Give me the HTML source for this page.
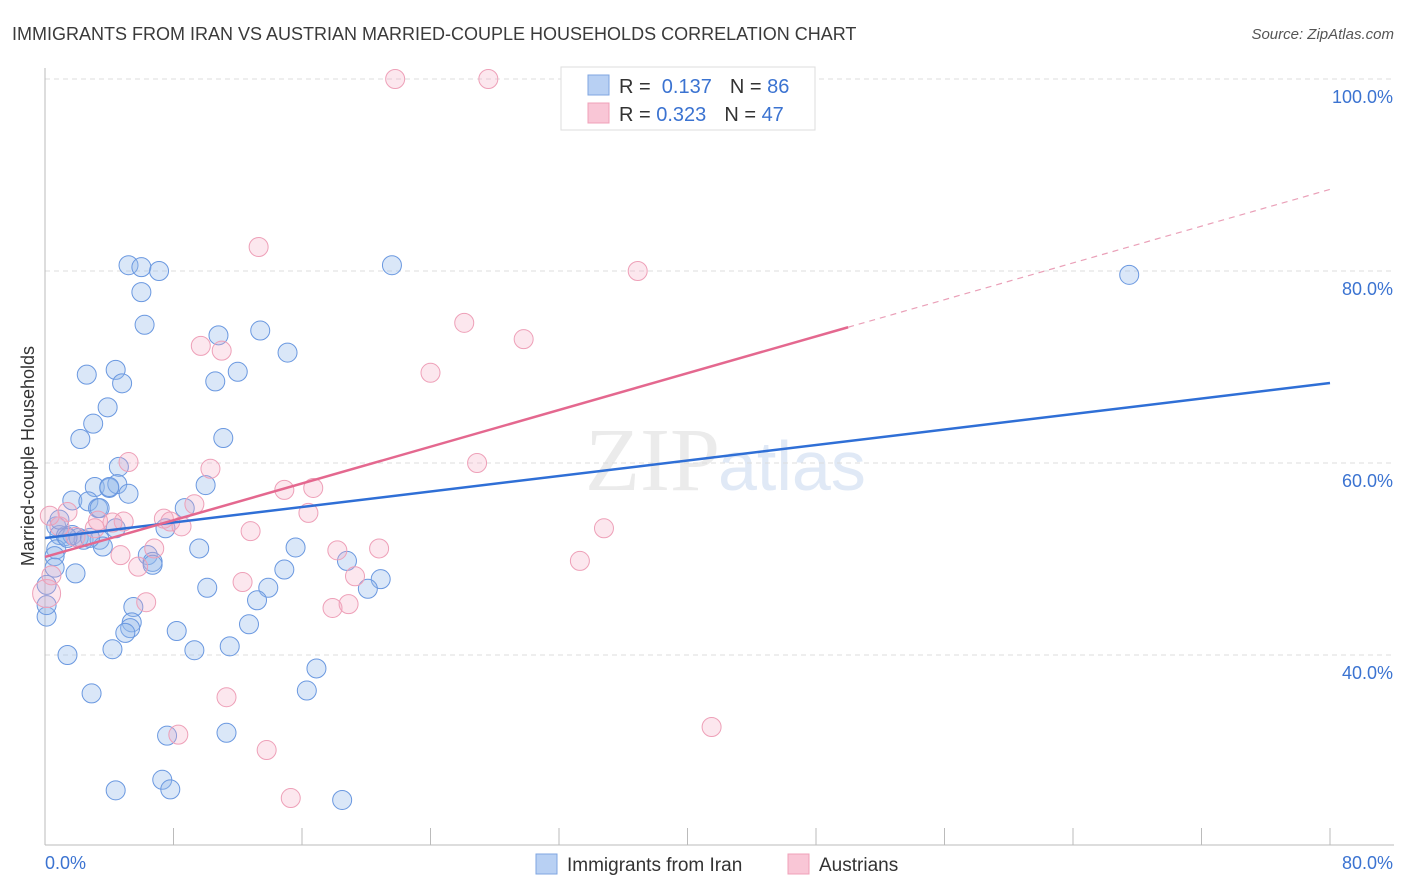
<!DOCTYPE html>
<html><head><meta charset="utf-8"><style>
body{margin:0;background:#fff;font-family:"Liberation Sans",sans-serif;}
svg{display:block}
</style></head><body>
<svg id="chart" width="1406" height="892">
<text x="12" y="40" font-size="18" fill="#3a3a3a">IMMIGRANTS FROM IRAN VS AUSTRIAN MARRIED-COUPLE HOUSEHOLDS CORRELATION CHART</text>
<text x="1394" y="39" font-size="15" fill="#555" font-style="italic" text-anchor="end">Source: ZipAtlas.com</text>
<text x="720" y="490" font-size="90" fill="#ebebeb" font-family="Liberation Serif,serif" text-anchor="end">ZIP</text>
<text x="718" y="490" font-size="70" fill="#e0e9f6">atlas</text>
<g id="grid"></g><g id="axes"></g><g id="pts"></g><g id="lines"></g>
<text transform="translate(34,456) rotate(-90)" font-size="18" fill="#333" text-anchor="middle">Married-couple Households</text>
<text x="45" y="869" font-size="18" fill="#3b73d1">0.0%</text>
<text x="1393" y="869" font-size="18" fill="#3b73d1" text-anchor="end">80.0%</text>
<g>
<rect x="561" y="67" width="254" height="63" fill="#fff" stroke="#ddd"/>
<rect x="588" y="75" width="21" height="20" fill="#b8d0f3" stroke="#7fa6e0"/>
<rect x="588" y="103" width="21" height="20" fill="#f9c6d6" stroke="#f0a0b8"/>
<text x="619" y="93" font-size="20" fill="#333">R = <tspan fill="#3b73d1">&#160;0.137</tspan><tspan dx="18">N = </tspan><tspan fill="#3b73d1">86</tspan></text>
<text x="619" y="121" font-size="20" fill="#333">R = <tspan fill="#3b73d1">0.323</tspan><tspan dx="18">N = </tspan><tspan fill="#3b73d1">47</tspan></text>
</g>
<g>
<rect x="536" y="854" width="21" height="20" fill="#b8d0f3" stroke="#7fa6e0"/>
<text x="567" y="871" font-size="19" fill="#333">Immigrants from Iran</text>
<rect x="788" y="854" width="21" height="20" fill="#f9c6d6" stroke="#f0a0b8"/>
<text x="819" y="871" font-size="19" fill="#333">Austrians</text>
</g>
</svg>
<script>
const yTicks=[40,60,80,100];
const xTicks=[0,8,16,24,32,40,48,56,64,72,80];
const blueX=[5.2,6.0,7.1,6.0,6.2,10.8,13.4,15.1,2.6,4.4,4.8,10.6,12.0,3.9,3.0,2.2,11.1,4.6,3.1,4.0,4.5,5.2,1.7,2.7,3.3,10.0,8.7,0.7,0.9,1.3,1.7,2.1,2.4,3.4,3.6,0.7,0.6,0.6,6.4,6.7,6.7,9.6,15.6,18.8,14.9,1.9,10.1,13.9,20.9,20.1,13.2,5.5,5.4,5.3,5.0,8.2,12.7,11.5,9.3,4.2,1.4,16.9,16.3,2.9,7.6,11.3,7.3,7.8,4.4,18.5,21.6,67.5,0.1,0.1,0.1,0.9,1.4,2.8,3.4,4.4,7.5,4.0];
const blueY=[80.6,80.4,80.0,77.8,74.4,73.3,73.8,71.5,69.2,69.7,68.3,68.5,69.5,65.8,64.1,62.5,62.6,59.6,57.5,57.4,57.8,56.8,56.1,56.0,55.3,57.7,55.3,53.4,52.5,52.4,52.5,52.2,52.0,52.0,51.3,51.0,50.3,49.1,50.4,49.7,49.4,51.1,51.2,49.8,48.9,48.5,47.0,47.0,47.9,46.9,45.7,45.0,43.4,42.8,42.3,42.5,43.2,40.9,40.5,40.6,40.0,38.6,36.3,36.0,31.6,31.9,27.0,26.0,25.9,24.9,80.6,79.6,44.0,45.2,47.3,54.1,52.2,52.2,55.3,53.2,53.2,57.5];
const pinkX=[21.8,27.6,13.3,36.9,26.1,29.8,9.7,11.0,24.0,5.2,10.3,26.9,9.3,14.9,16.7,16.4,7.4,7.8,4.9,4.2,12.8,8.5,3.3,1.4,6.8,18.2,20.8,5.8,33.3,34.8,19.3,12.3,6.3,17.9,18.9,0.1,11.3,8.3,13.8,41.5,15.3,0.9,1.9,3.1,0.3,0.4,4.7];
const pinkY=[100,100,82.5,80.0,74.6,72.9,72.2,71.7,69.4,60.1,59.4,60.0,55.7,57.2,57.4,54.8,54.2,53.9,53.9,53.8,52.9,53.4,54.0,54.9,51.1,50.9,51.1,49.2,49.8,53.2,48.2,47.6,45.5,44.9,45.3,46.4,35.6,31.7,30.1,32.5,25.1,53.4,52.3,53.2,54.5,48.3,50.4];
const blueTrend=[52.19,68.33];
const pinkTrend=[50.21,88.5];
const X0=45,X1=1330;
function sx(v){return X0+v/80*(X1-X0);}
function sy(v){return 79+(100-v)*9.6;}
const NS='http://www.w3.org/2000/svg';
function mk(tag,attrs,parent){const e=document.createElementNS(NS,tag);for(const k in attrs)e.setAttribute(k,attrs[k]);document.getElementById(parent).appendChild(e);return e;}
yTicks.forEach(t=>{
 const l=mk('line',{x1:X0,x2:1394,y1:sy(t),y2:sy(t),stroke:'#ddd','stroke-dasharray':'5,4'},'grid');
 
 
 const tx=mk('text',{x:1393,y:sy(t)+24,'font-size':18,fill:'#3b73d1','text-anchor':'end'},'grid');
 tx.textContent=t.toFixed(1)+'%';
 
 
});
let a=mk('line',{x1:X0,x2:X0,y1:68,y2:845,stroke:'#bbb'},'axes');


a=mk('line',{x1:X0,x2:1394,y1:845,y2:845,stroke:'#bbb'},'axes');


xTicks.forEach(t=>{
 const l=mk('line',{x1:sx(t),x2:sx(t),y1:828,y2:845,stroke:'#bbb'},'axes');
 
 
});
blueX.forEach((x,i)=>{
 const c=mk('circle',{cx:sx(x),cy:sy(blueY[i]),r:9.5,fill:'rgba(150,185,235,0.35)',stroke:'#6a98e0','stroke-width':1},'pts');
 
 
});
pinkX.forEach((x,i)=>{
 const c=mk('circle',{cx:sx(x),cy:sy(pinkY[i]),r:i==35?14:9.5,fill:'rgba(245,170,195,0.28)',stroke:'#eea0b8','stroke-width':1},'pts');
 
 
});
let t=mk('line',{x1:sx(0),y1:sy(blueTrend[0]),x2:sx(80),y2:sy(blueTrend[1]),stroke:'#2f6fd6','stroke-width':2.5},'lines');


const pm=v=>pinkTrend[0]+(pinkTrend[1]-pinkTrend[0])*v/80;
t=mk('line',{x1:sx(0),y1:sy(pm(0)),x2:sx(50),y2:sy(pm(50)),stroke:'#e4688f','stroke-width':2.5},'lines');


t=mk('line',{x1:sx(50),y1:sy(pm(50)),x2:sx(80),y2:sy(pm(80)),stroke:'#eaa0b8','stroke-width':1.2,'stroke-dasharray':'6,5'},'lines');


</script>
</body></html>
